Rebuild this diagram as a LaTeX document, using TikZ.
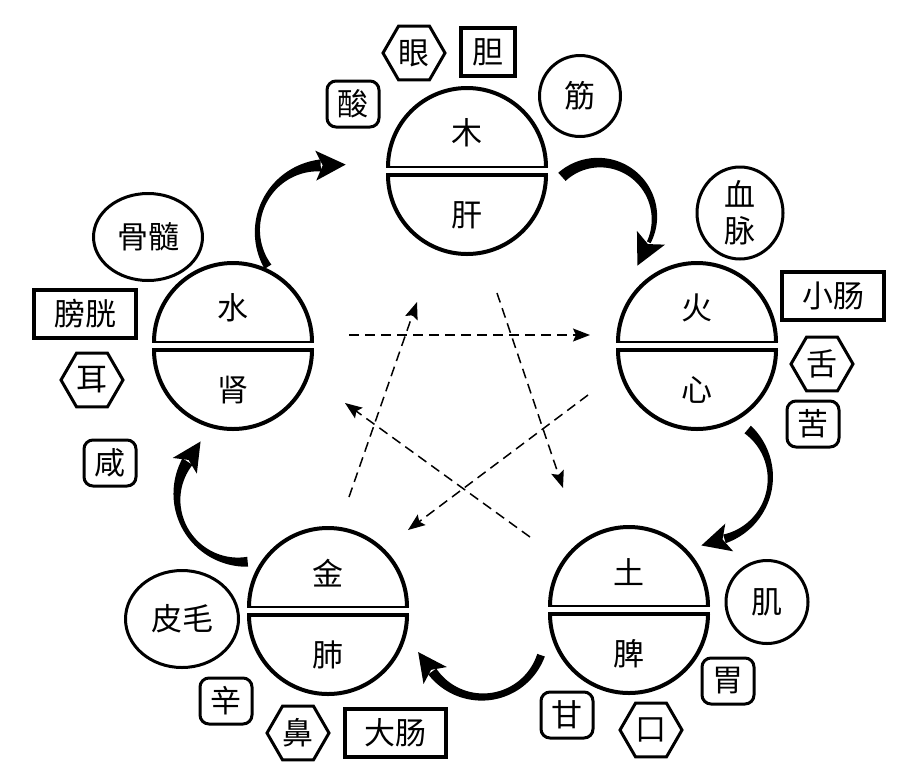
\documentclass[tikz,border=0pt]{standalone}
\usepackage{fontspec}
\newfontfamily\cjk{Noto Sans CJK SC}
\usetikzlibrary{shapes.geometric,arrows.meta}
\newcommand\elfont{\cjk\fontsize{31}{36}\selectfont}
% swoosh: cx, cy, R, a0, a1, w0, wmid, w1, head length
\newcommand\swoosh[9]{%
 \fill plot[domain=#4:#5,samples=60,variable=\t]
   ({#1+(#3+0.5*wqf(swf(\t,#4,#5),#6,#7,#8))*cos(\t)},{#2+(#3+0.5*wqf(swf(\t,#4,#5),#6,#7,#8))*sin(\t)})
   -- plot[domain=#5:#4,samples=60,variable=\t]
   ({#1+(#3-0.5*wqf(swf(\t,#4,#5),#6,#7,#8))*cos(\t)},{#2+(#3-0.5*wqf(swf(\t,#4,#5),#6,#7,#8))*sin(\t)}) -- cycle;
 \fill ({#1+#3*cos(#5)-#9*sin(#5)},{#2+#3*sin(#5)+#9*cos(#5)})
   -- ({#1+(#3+#9*0.6)*cos(#5)+5*sin(#5)},{#2+(#3+#9*0.6)*sin(#5)-5*cos(#5)})
   -- ({#1+#3*cos(#5)-2*sin(#5)},{#2+#3*sin(#5)+2*cos(#5)})
   -- ({#1+(#3-#9*0.6)*cos(#5)+5*sin(#5)},{#2+(#3-#9*0.6)*sin(#5)-5*cos(#5)}) -- cycle;
}
% element: name, cx, top chord y, bottom chord y, top text, bottom text
\newcommand\element[6]{%
 \coordinate (#1) at (#2,{(#3+#4)/2});
 \draw[line width=4pt] (#2-79,#3) arc[start angle=180,end angle=360,radius=79];
 \draw[line width=2.6pt] (#2-81,#3) -- (#2+81,#3);
 \draw[line width=4pt] (#2-79,#4) arc[start angle=180,end angle=0,radius=79];
 \draw[line width=4.6pt] (#2-81,#4) -- (#2+81,#4);
 \node (#1-t) at (#2,#3-34) {#5};
 \node (#1-b) at (#2,#4+40) {#6};
}
\begin{document}
\begin{tikzpicture}[x=1pt,y=-1pt,
  every node/.style={font=\elfont,inner sep=0pt},
  declare function={swf(\k,\p,\q)=(\k-\p)/(\q-\p);
    wqf(\s,\u,\m,\w)=\u*(1-\s)*(1-2*\s)+4*\m*\s*(1-\s)+\w*\s*(2*\s-1);},
  hexa/.style={draw,regular polygon,regular polygon sides=6,minimum size=62pt,line width=3pt},
  rbox/.style={draw,rounded corners=9pt,line width=3pt,minimum width=52pt,minimum height=46pt},
  sbox/.style={draw,line width=4pt,minimum height=48pt},
  oval/.style={draw,ellipse,line width=3pt},
  ctl/.style={dashed,dash pattern=on 10pt off 6pt,line width=1.5pt,-{Stealth[length=17pt,width=13pt,inset=3pt]}}]
\useasboundingbox (0,0) rectangle (904,772);
\fill[white] (0,0) rectangle (904,772);

\element{mu}{467}{167}{175}{木}{肝}
\element{huo}{697}{342}{350}{火}{心}
\element{tu}{629}{606}{614}{土}{脾}
\element{jin}{328}{607}{615}{金}{肺}
\element{shui}{233}{342}{350}{水}{肾}

% generating cycle
\swoosh{599}{218}{55.4}{228}{386}{11}{8}{4}{26}
\swoosh{707}{478}{63.3}{310}{434}{10}{5}{9}{24}
\swoosh{482.4}{635}{62}{19}{144}{8}{7}{10}{24}
\swoosh{242}{497}{65}{85}{213}{10}{5}{12}{24}
\swoosh{323}{231}{65.6}{147}{268}{8}{5}{12}{25}

% controlling cycle
\coordinate (d1s) at (349,335); \coordinate (d1e) at (590,335);
\coordinate (d2s) at (349,497); \coordinate (d2e) at (417,302);
\coordinate (d3s) at (497,293); \coordinate (d3e) at (563,488);
\coordinate (d4s) at (588,395); \coordinate (d4e) at (408,530);
\coordinate (d5s) at (530,537); \coordinate (d5e) at (345,403);
\draw[ctl] (d1s) -- (d1e);
\draw[ctl] (d2s) -- (d2e);
\draw[ctl] (d3s) -- (d3e);
\draw[ctl] (d4s) -- (d4e);
\draw[ctl] (d5s) -- (d5e);

% wood
\node[hexa] (yan) at (414,53) {眼};
\node[sbox,minimum width=54pt] (dan) at (488,52) {胆};
\node[rbox] (suan) at (353,104) {酸};
\node[oval,minimum width=81pt,minimum height=81pt] (jinn) at (580,96) {筋};
% fire
\node[oval,minimum width=86pt,minimum height=92pt,align=center] (xuemai) at (740,213) {血\\脉};
\node[sbox,minimum width=102pt] (xiaochang) at (833,296) {小肠};
\node[hexa] (she) at (822,364) {舌};
\node[rbox] (ku) at (813,424) {苦};
% earth
\node[oval,minimum width=82pt,minimum height=83pt] (ji) at (767,602) {肌};
\node[rbox] (wei) at (728,681) {胃};
\node[hexa] (kou) at (651,730) {口};
\node[rbox] (gan) at (567,715) {甘};
% metal
\node[sbox,minimum width=101pt] (dachang) at (395,733) {大肠};
\node[hexa] (bi) at (298,733) {鼻};
\node[rbox] (xin) at (226,701) {辛};
\node[oval,minimum width=113pt,minimum height=97pt] (pimao) at (182,619) {皮毛};
% water
\node[rbox] (xian) at (110,463) {咸};
\node[hexa] (er) at (92,380) {耳};
\node[sbox,minimum width=102pt] (pangguang) at (85,314) {膀胱};
\node[oval,minimum width=109pt,minimum height=87pt] (gusui) at (148,237) {骨髓};
\end{tikzpicture}
\end{document}
